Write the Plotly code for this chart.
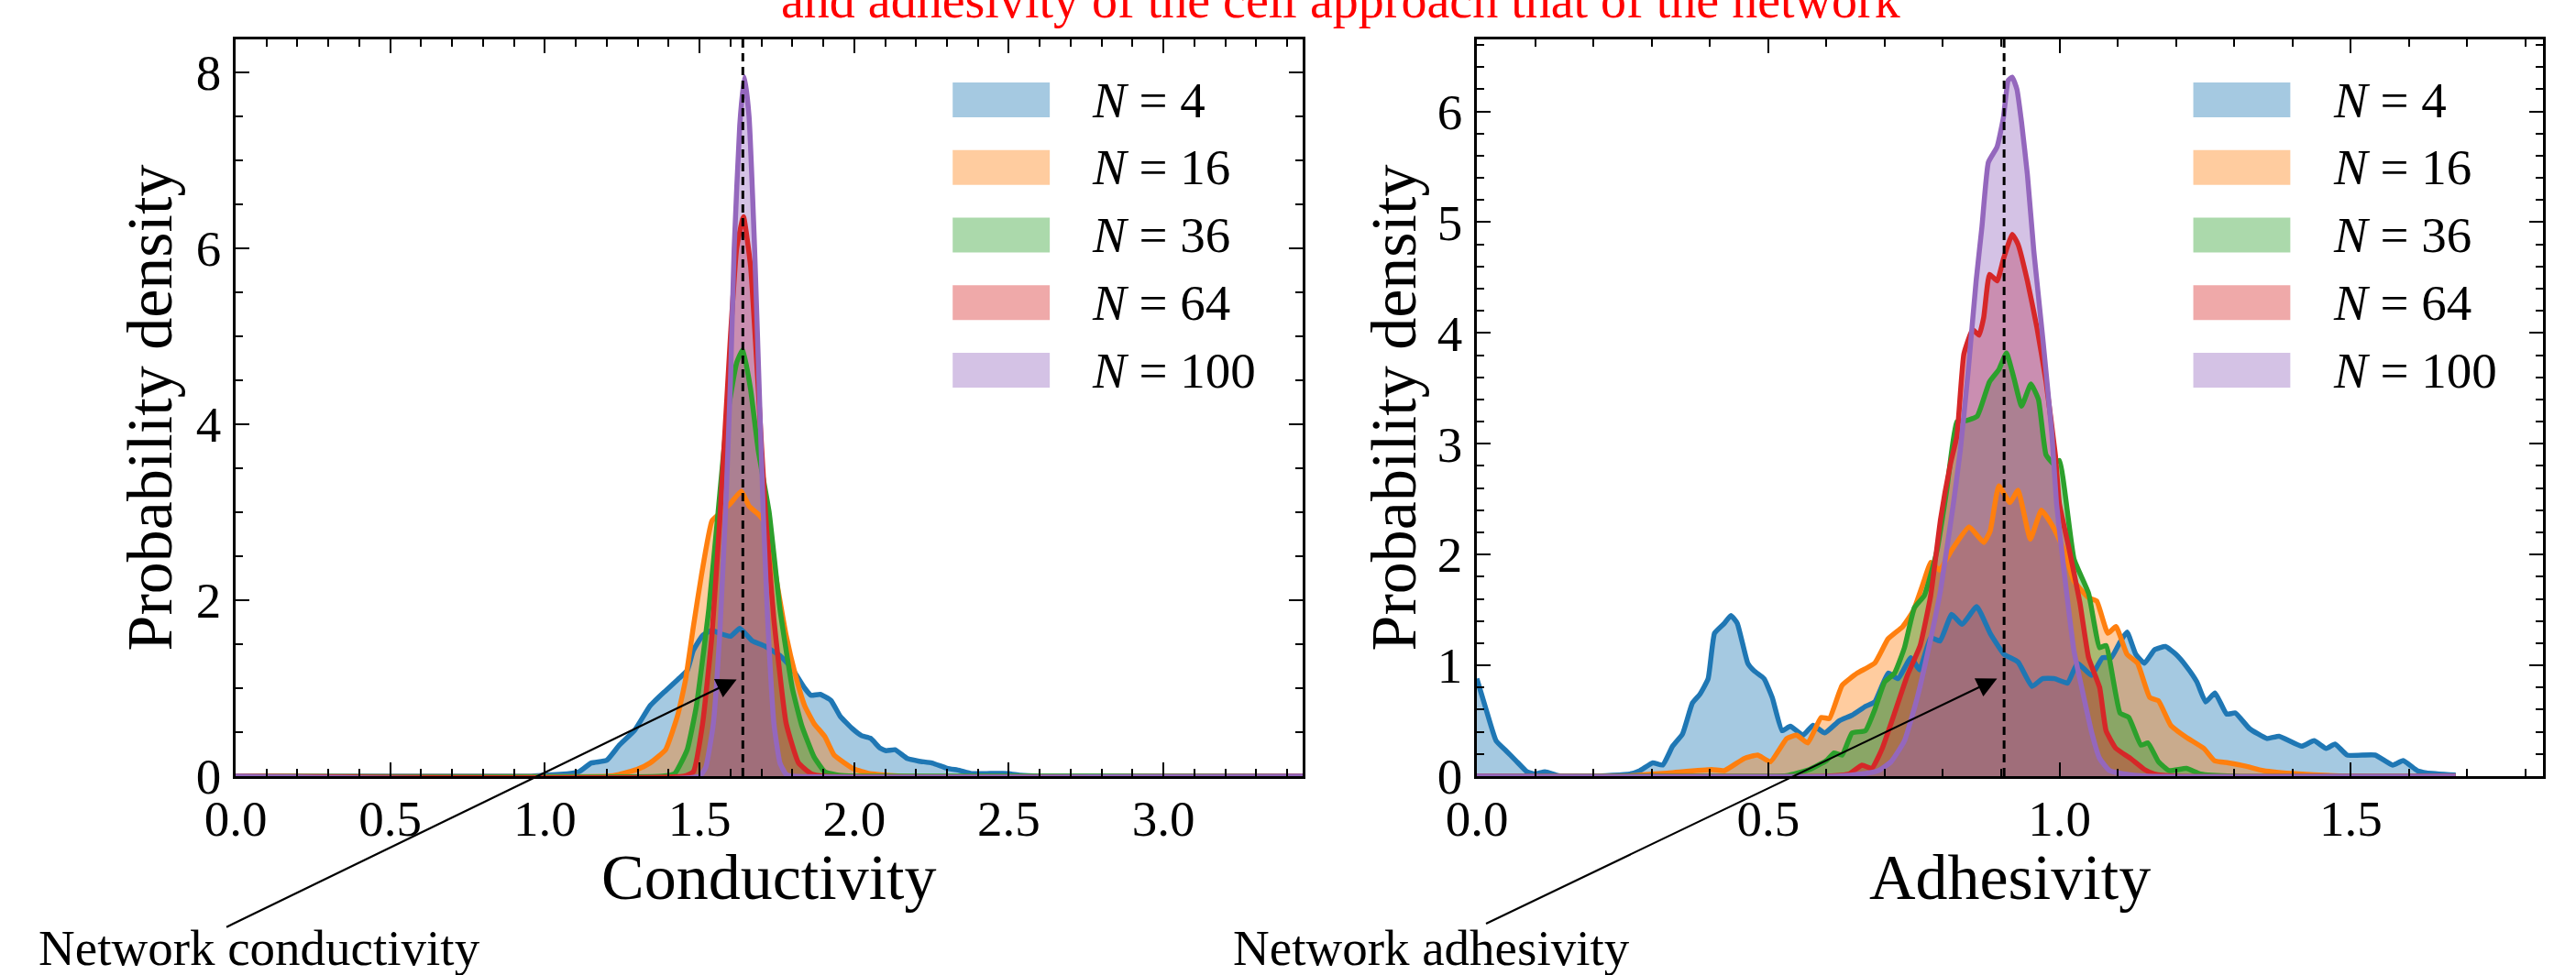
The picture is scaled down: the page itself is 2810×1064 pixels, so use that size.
import plotly.graph_objects as go

# ---------------- data ----------------
group_labels = ["4", "16", "36", "64", "100"]
group_colors = ["#1f77b4", "#ff7f0e", "#2ca02c", "#d62728", "#9467bd"]

network_conductivity = 1.64
network_adhesivity = 0.905

# Conductivity density curves (x, density)
cond_n4 = [(0.0, 0), (0.95, 0), (1.0, 0.01), (1.05, 0.02), (1.11, 0.05), (1.15, 0.15), (1.2, 0.18),
           (1.24, 0.35), (1.29, 0.52), (1.34, 0.8), (1.39, 0.97), (1.43, 1.1), (1.46, 1.2), (1.48, 1.43),
           (1.51, 1.6), (1.54, 1.66), (1.56, 1.63), (1.6, 1.59), (1.63, 1.68), (1.67, 1.54), (1.71, 1.48),
           (1.76, 1.37), (1.8, 1.22), (1.84, 1.0), (1.86, 0.92), (1.89, 0.93), (1.925, 0.86), (1.955, 0.68),
           (1.994, 0.54), (2.024, 0.46), (2.053, 0.43), (2.083, 0.32), (2.103, 0.29), (2.132, 0.30),
           (2.172, 0.20), (2.21, 0.17), (2.251, 0.15), (2.3, 0.09), (2.34, 0.065), (2.379, 0.03),
           (2.44, 0.03), (2.498, 0.03), (2.537, 0.01), (2.6, 0.0), (3.45, 0.0)]
cond_n16 = [(0.0, 0), (1.2, 0), (1.24, 0.02), (1.3, 0.08), (1.34, 0.15), (1.39, 0.3), (1.43, 0.7),
            (1.455, 1.1), (1.48, 1.7), (1.506, 2.28), (1.54, 2.9), (1.57, 3.0), (1.6, 3.1), (1.635, 3.24),
            (1.66, 3.07), (1.695, 2.96), (1.72, 2.84), (1.75, 2.2), (1.78, 1.6), (1.81, 1.15), (1.84, 0.8),
            (1.87, 0.6), (1.905, 0.45), (1.935, 0.24), (1.965, 0.16), (2.0, 0.08), (2.05, 0.03),
            (2.15, 0.0), (3.45, 0.0)]
cond_n36 = [(0.0, 0), (1.38, 0), (1.42, 0.03), (1.46, 0.3), (1.49, 0.8), (1.53, 1.9), (1.56, 3.0),
            (1.59, 4.1), (1.62, 4.7), (1.64, 4.85), (1.665, 4.4), (1.69, 3.7), (1.725, 3.0), (1.76, 1.9),
            (1.8, 1.0), (1.83, 0.58), (1.87, 0.22), (1.905, 0.05), (1.95, 0.01), (2.0, 0.0), (3.45, 0.0)]
cond_n64 = [(0.0, 0), (1.45, 0), (1.48, 0.05), (1.51, 0.6), (1.54, 1.6), (1.567, 3.0), (1.6, 5.0),
            (1.62, 6.0), (1.642, 6.36), (1.665, 5.8), (1.69, 4.4), (1.713, 3.0), (1.74, 1.8), (1.78, 0.6),
            (1.82, 0.15), (1.86, 0.03), (1.9, 0.0), (3.45, 0.0)]
cond_n100 = [(0.0, 0), (1.5, 0), (1.52, 0.1), (1.544, 0.58), (1.565, 1.6), (1.584, 3.0), (1.6, 4.5),
             (1.612, 6.0), (1.63, 7.4), (1.645, 7.95), (1.66, 7.5), (1.678, 6.0), (1.692, 4.5),
             (1.706, 3.0), (1.72, 1.8), (1.741, 0.58), (1.76, 0.15), (1.78, 0.02), (1.8, 0.0), (3.45, 0.0)]

# Adhesivity density curves (x, density)
adh_n4 = [(0.0, 0.88), (0.016, 0.6), (0.033, 0.32), (0.05, 0.23), (0.067, 0.14), (0.086, 0.04),
          (0.1, 0.02), (0.117, 0.04), (0.14, 0.005), (0.2, 0.0), (0.263, 0.02), (0.28, 0.05),
          (0.302, 0.12), (0.319, 0.10), (0.336, 0.27), (0.353, 0.38), (0.37, 0.66), (0.383, 0.74),
          (0.397, 0.88), (0.408, 1.29), (0.425, 1.38), (0.436, 1.45), (0.447, 1.38), (0.465, 1.02),
          (0.476, 0.95), (0.493, 0.88), (0.507, 0.71), (0.524, 0.41), (0.538, 0.45), (0.56, 0.37),
          (0.577, 0.46), (0.597, 0.39), (0.622, 0.50), (0.644, 0.55), (0.667, 0.63), (0.683, 0.67),
          (0.706, 0.93), (0.723, 0.88), (0.745, 1.07), (0.76, 0.96), (0.779, 1.25), (0.795, 1.22),
          (0.815, 1.46), (0.833, 1.37), (0.858, 1.53), (0.881, 1.29), (0.905, 1.1), (0.929, 1.03),
          (0.953, 0.81), (0.971, 0.88), (0.992, 0.88), (1.014, 0.84), (1.031, 1.02), (1.055, 0.91),
          (1.074, 1.07), (1.089, 1.07), (1.104, 1.21), (1.116, 1.30), (1.131, 1.1), (1.146, 1.02),
          (1.163, 1.14), (1.182, 1.17), (1.2, 1.1), (1.218, 0.99), (1.236, 0.85), (1.251, 0.67),
          (1.267, 0.75), (1.287, 0.56), (1.302, 0.57), (1.326, 0.43), (1.356, 0.34), (1.377, 0.36),
          (1.416, 0.27), (1.437, 0.32), (1.458, 0.25), (1.473, 0.29), (1.494, 0.19), (1.542, 0.19),
          (1.572, 0.10), (1.59, 0.14), (1.614, 0.05), (1.63, 0.03), (1.68, 0.01)]
adh_n16 = [(0.0, 0), (0.25, 0), (0.33, 0.03), (0.403, 0.06), (0.425, 0.05), (0.459, 0.16), (0.482, 0.19),
           (0.504, 0.13), (0.532, 0.34), (0.549, 0.37), (0.568, 0.30), (0.591, 0.53), (0.605, 0.52),
           (0.627, 0.82), (0.653, 0.93), (0.683, 1.02), (0.706, 1.24), (0.731, 1.35), (0.749, 1.49),
           (0.768, 1.77), (0.779, 1.93), (0.794, 1.86), (0.815, 2.04), (0.845, 2.25), (0.87, 2.11),
           (0.881, 2.21), (0.896, 2.62), (0.915, 2.47), (0.929, 2.58), (0.95, 2.14), (0.969, 2.40),
           (0.989, 2.25), (1.008, 2.04), (1.025, 1.76), (1.05, 1.61), (1.064, 1.58), (1.083, 1.29),
           (1.097, 1.35), (1.116, 1.1), (1.134, 1.02), (1.155, 0.71), (1.17, 0.68), (1.191, 0.46),
           (1.218, 0.35), (1.248, 0.25), (1.266, 0.14), (1.29, 0.12), (1.32, 0.09), (1.35, 0.05),
           (1.41, 0.02), (1.5, 0.0), (1.68, 0.0)]
adh_n36 = [(0.0, 0), (0.5, 0), (0.532, 0.005), (0.571, 0.06), (0.6, 0.14), (0.613, 0.21), (0.627, 0.19),
           (0.644, 0.39), (0.667, 0.41), (0.683, 0.60), (0.7, 0.85), (0.717, 0.93), (0.734, 1.16),
           (0.751, 1.52), (0.768, 1.63), (0.79, 2.04), (0.807, 2.6), (0.824, 3.2), (0.841, 3.21),
           (0.859, 3.25), (0.88, 3.56), (0.896, 3.67), (0.909, 3.82), (0.922, 3.59), (0.935, 3.34),
           (0.951, 3.54), (0.964, 3.40), (0.977, 2.90), (0.99, 2.82), (1.0, 2.85), (1.025, 1.96),
           (1.05, 1.65), (1.069, 1.16), (1.08, 1.18), (1.104, 0.57), (1.119, 0.53), (1.14, 0.28),
           (1.152, 0.30), (1.17, 0.13), (1.188, 0.05), (1.218, 0.07), (1.242, 0.02), (1.3, 0.0), (1.68, 0.0)]
adh_n64 = [(0.0, 0), (0.6, 0), (0.639, 0.02), (0.661, 0.10), (0.678, 0.07), (0.695, 0.24), (0.717, 0.57),
           (0.739, 0.91), (0.761, 1.18), (0.779, 1.63), (0.796, 2.32), (0.813, 2.82), (0.824, 3.07),
           (0.836, 3.81), (0.851, 4.03), (0.862, 3.98), (0.87, 4.14), (0.88, 4.53), (0.893, 4.47),
           (0.904, 4.67), (0.919, 4.89), (0.929, 4.80), (0.945, 4.47), (0.961, 4.06), (0.977, 3.56),
           (0.993, 2.90), (1.0, 2.46), (1.017, 2.04), (1.035, 1.57), (1.05, 1.07), (1.069, 0.80),
           (1.08, 0.41), (1.097, 0.25), (1.122, 0.16), (1.146, 0.06), (1.163, 0.02), (1.2, 0.0), (1.68, 0.0)]
adh_n100 = [(0.0, 0), (0.62, 0), (0.661, 0.02), (0.689, 0.05), (0.711, 0.13), (0.734, 0.32), (0.756, 0.71),
            (0.779, 1.24), (0.796, 1.68), (0.818, 2.46), (0.83, 2.95), (0.843, 3.64), (0.857, 4.47),
            (0.867, 4.96), (0.878, 5.54), (0.893, 5.68), (0.904, 5.95), (0.912, 6.28), (0.919, 6.31),
            (0.927, 6.20), (0.935, 5.90), (0.945, 5.43), (0.956, 4.74), (0.972, 3.92), (0.987, 3.09),
            (0.995, 2.46), (1.01, 1.76), (1.025, 1.13), (1.044, 0.66), (1.056, 0.38), (1.069, 0.16),
            (1.086, 0.05), (1.11, 0.02), (1.15, 0.0), (1.68, 0.0)]

cond_series = [cond_n4, cond_n16, cond_n36, cond_n64, cond_n100]
adh_series = [adh_n4, adh_n16, adh_n36, adh_n64, adh_n100]

# arrow targets (data coordinates)
cond_arrow_tip = (1.62, 1.1)
adh_arrow_tip = (0.893, 0.88)

title_line = "and adhesivity of the cell approach that of the network"

# ---------------- figure ----------------
FONT = "Liberation Serif"
W, H = 2810, 1064
ML, MR, MT, MB = 257, 36, 43, 217


def rgba(hx, a):
    hx = hx.lstrip("#")
    r, g, b = int(hx[0:2], 16), int(hx[2:4], 16), int(hx[4:6], 16)
    return f"rgba({r},{g},{b},{a})"


fig = go.Figure()
panels = [(cond_series, "x", "y"), (adh_series, "x2", "y2")]

# filled areas (histogram-like translucent fills)
for series, xa, ya in panels:
    for pts, col in zip(series, group_colors):
        fig.add_trace(go.Scatter(
            x=[p[0] for p in pts], y=[p[1] for p in pts], xaxis=xa, yaxis=ya,
            mode="lines", line=dict(width=0, shape="spline", smoothing=0.4),
            fill="tozeroy", fillcolor=rgba(col, 0.4), showlegend=False, hoverinfo="skip"))

# density lines
for series, xa, ya in panels:
    for pts, col, lab in zip(series, group_colors, group_labels):
        fig.add_trace(go.Scatter(
            x=[p[0] for p in pts], y=[p[1] for p in pts], xaxis=xa, yaxis=ya,
            mode="lines", line=dict(width=5.5, color=col, shape="spline", smoothing=0.4),
            name=f"N = {lab}", showlegend=False))

axis_common = dict(
    showline=True, linecolor="black", linewidth=2.5, mirror="allticks",
    ticks="inside", ticklen=15, tickwidth=2, tickcolor="black",
    showgrid=False, zeroline=False,
    tickfont=dict(family=FONT, size=55, color="black"),
    minor=dict(ticks="inside", ticklen=8, tickwidth=2, tickcolor="black", showgrid=False),
)

split_l = (1421 - ML) / (W - ML - MR)
split_r = (1611 - ML) / (W - ML - MR)
TITLE_FONT = dict(family=FONT, size=70, color="black")

fig.update_layout(
    width=W, height=H,
    margin=dict(l=ML, r=MR, t=MT, b=MB, pad=0),
    paper_bgcolor="white", plot_bgcolor="white",
    showlegend=False,
    xaxis=dict(axis_common, domain=[0, split_l], range=[0, 3.45], tick0=0, dtick=0.5,
               tickformat=".1f", ticklabelstandoff=-4,
               minor=dict(axis_common["minor"], dtick=0.1)),
    yaxis=dict(axis_common, domain=[0, 1], range=[0, 8.375], tick0=0, dtick=2, ticklabelstandoff=2,
               minor=dict(axis_common["minor"], dtick=0.5),
               title=dict(text="Probability density", font=TITLE_FONT, standoff=4)),
    xaxis2=dict(axis_common, domain=[split_r, 1], range=[0, 1.83], tick0=0, dtick=0.5,
                tickformat=".1f", ticklabelstandoff=-4, anchor="y2",
                minor=dict(axis_common["minor"], dtick=0.1)),
    yaxis2=dict(axis_common, domain=[0, 1], range=[0, 6.65], tick0=0, dtick=1, ticklabelstandoff=2,
                anchor="x2", minor=dict(axis_common["minor"], dtick=0.2),
                title=dict(text="Probability density", font=TITLE_FONT, standoff=1)),
)

PW, PH = W - ML - MR, H - MT - MB


def px2paper(px, py):
    return (px - ML) / PW, (H - MB - py) / PH


# x-axis titles
_, ty = px2paper(0, 957)
for xd, txt in [("x domain", "Conductivity"), ("x2 domain", "Adhesivity")]:
    fig.add_annotation(xref=xd, yref="paper", x=0.5, y=ty, xanchor="center", yanchor="middle",
                       text=txt, showarrow=False, font=TITLE_FONT)

# network reference lines
for xv, xr in [(network_conductivity, "x"), (network_adhesivity, "x2")]:
    fig.add_shape(type="line", xref=xr, yref=("y domain" if xr == "x" else "y2 domain"),
                  x0=xv, x1=xv, y0=0, y1=1, layer="above",
                  line=dict(color="black", width=3, dash="9px,6px"))

# custom legends (large patches as in the reference)
row_h = 38 / PH
row_step = 73.75 / PH
first_top = (847 - 90) / PH
for xd, yd in [("x domain", "y domain"), ("x2 domain", "y2 domain")]:
    for i, (lab, col) in enumerate(zip(group_labels, group_colors)):
        y1 = first_top - i * row_step
        y0 = y1 - row_h
        fig.add_shape(type="rect", xref=xd, yref=yd, x0=0.672, x1=0.763, y0=y0, y1=y1,
                      fillcolor=rgba(col, 0.4), line=dict(width=0), layer="above")
        fig.add_annotation(xref=xd, yref=yd, x=0.801, y=(y0 + y1) / 2, xanchor="left", yanchor="middle",
                           text=f"<i>N</i> = {lab}", showarrow=False,
                           font=dict(family=FONT, size=55, color="black"))

# arrows
fig.add_annotation(x=cond_arrow_tip[0], y=cond_arrow_tip[1], xref="x", yref="y",
                   ax=-558, ay=271, text="", showarrow=True, arrowhead=2, arrowsize=2,
                   arrowwidth=2.2, arrowcolor="black")
fig.add_annotation(x=adh_arrow_tip[0], y=adh_arrow_tip[1], xref="x2", yref="y2",
                   ax=-559, ay=268, text="", showarrow=True, arrowhead=2, arrowsize=2,
                   arrowwidth=2.2, arrowcolor="black")

tx, ty = px2paper(40, 1034)
fig.add_annotation(xref="paper", yref="paper", x=tx, y=ty, xanchor="left", yanchor="middle",
                   text="Network conductivity", showarrow=False,
                   font=dict(family=FONT, size=55, color="black"))
tx, ty = px2paper(1343, 1034)
fig.add_annotation(xref="paper", yref="paper", x=tx, y=ty, xanchor="left", yanchor="middle",
                   text="Network adhesivity", showarrow=False,
                   font=dict(family=FONT, size=55, color="black"))

tx, ty = px2paper(1462, 0)
fig.add_annotation(xref="paper", yref="paper", x=tx, y=ty, xanchor="center", yanchor="middle",
                   text=title_line, showarrow=False,
                   font=dict(family=FONT, size=56, color="red"))

fig.write_html("out.html", config={"displayModeBar": False},
               post_script="document.body.style.margin='0';")
